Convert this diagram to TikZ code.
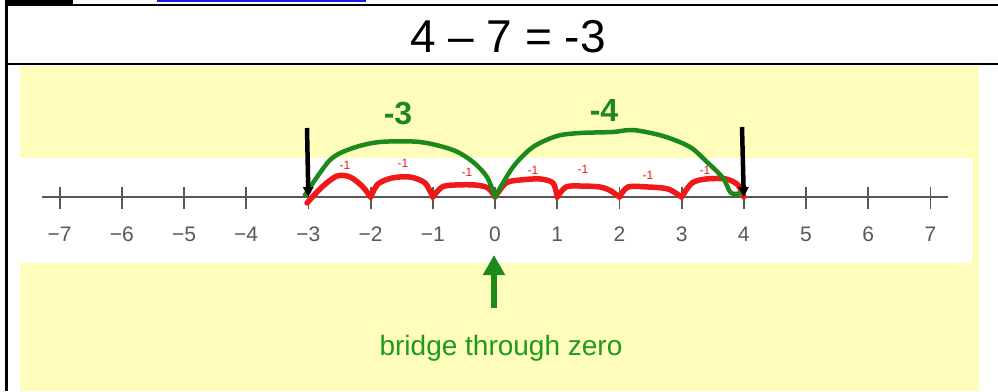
\documentclass[tikz,border=0pt]{standalone}
\usepackage{fontspec}
\setmainfont{Liberation Sans}
\usetikzlibrary{positioning,arrows.meta,calc}
\definecolor{cPad}{HTML}{FFFDBB}
\definecolor{cHop}{HTML}{F01818}
\definecolor{cJump}{HTML}{1B8A1B}
\definecolor{cNote}{HTML}{1E9A1E}
\definecolor{cAxis}{HTML}{585858}
\definecolor{cLink}{HTML}{1A1AE6}
\tikzset{
  frameline/.style={line width=2pt},
  numline/.style={draw=cAxis,line width=2pt},
  tickmark/.style={draw=cAxis,line width=1.8pt},
  num/.style={text=cAxis,font=\fontsize{21}{21}\selectfont,inner sep=0pt},
  hop/.style={draw=cHop,line width=5.5pt,line cap=round,line join=round},
  hoplbl/.style={text=cHop,font=\fontsize{12}{12}\selectfont,inner sep=0pt},
  jump/.style={draw=cJump,line width=4.5pt,line cap=round,line join=round},
  jumplbl/.style={text=cJump,font=\fontsize{32}{32}\selectfont\bfseries,inner sep=0pt},
  downarr/.style={-{Triangle[length=10pt,width=10pt]},line width=4.5pt},
  uparr/.style={-{Triangle[length=20pt,width=21pt]},draw=cJump,line width=5.5pt},
  note/.style={text=cNote,font=\fontsize{28}{28}\selectfont,inner sep=0pt}}
\begin{document}
\begin{tikzpicture}[x=1pt,y=-1pt]
\useasboundingbox (0,0) rectangle (998,391);
% page frame and header row
\fill (5,0) rectangle (73,5);
\fill[cLink] (157,0) rectangle (366,2);
\draw[frameline] (5,5) -- (998,5);
\draw[frameline] (5,64) -- (998,64);
\draw[line width=3pt] (6,4) -- (6,391);
\node[font=\fontsize{46}{46}\selectfont,inner sep=0pt] (eq) at (508,36.5) {4 – 7 = -3};
% pad
\fill[cPad] (20,66) rectangle (979,391);
\fill[white] (20,158) rectangle (972,263);
% number line
\draw[numline] (42,197) -- (948,197);
\foreach \n in {-7,...,7}{
  \coordinate (t\n) at ({495+62.2*\n},197);
  \draw[tickmark] ($(t\n)+(0,-10)$) -- ($(t\n)+(0,12)$);
  \pgfmathtruncatemacro\a{abs(\n)}
  \node[num] (n\n) at ({495+62.2*\n},234) {\ifnum\n<0 −\fi\a};
}
% one-step hops
\draw[hop] plot[smooth] coordinates {(307,203) (322,187) (337,176) (350,177) (362,186) (t-2)};
\draw[hop] plot[smooth] coordinates {(t-2) (378,184) (392,178) (410,177) (425,183) (t-1)};
\draw[hop] plot[smooth] coordinates {(t-1) (442,187) (455,185) (475,185) (488,188) (t0)};
\draw[hop] plot[smooth] coordinates {(t0) (506,183) (520,180) (540,179) (553,183) (t1)};
\draw[hop] plot[smooth] coordinates {(t1) (566,187) (580,186) (600,187) (611,191) (t2)};
\draw[hop] plot[smooth] coordinates {(t2) (628,187) (648,187) (668,189) (t3)};
\draw[hop] plot[smooth] coordinates {(t3) (692,183) (706,179) (726,179) (738,185) (t4)};
\foreach \x/\y in {345/165,403/163,467/172,533/170,583/169,648/175,705/170}
  \node[hoplbl] at (\x,\y) {-1};
% big jumps
\draw[jump] plot[smooth] coordinates {(305,195) (330,160) (353,148) (380,142) (420,142) (453,150) (473,162) (487,177) (t0)};
\draw[jump] plot[smooth] coordinates {(t0) (513,167) (533,147) (557,136) (580,133) (613,132) (633,130) (663,136) (690,147) (707,162) (723,178) (731,193) (741,193)};
\node[jumplbl] (j3) at (398,114) {-3};
\node[jumplbl] (j4) at (604,110) {-4};
% start and end markers
\coordinate (s-3) at (307,128);
\coordinate (s4) at (742,127);
\draw[downarr] (s-3) -- (t-3);
\draw[downarr] (s4) -- (t4);
% zero note
\coordinate (zb) at (494,308);
\coordinate (zt) at (494,255);
\draw[uparr] (zb) -- (zt);
\node[note] (bz) at (501,348) {bridge through zero};
\end{tikzpicture}
\end{document}
